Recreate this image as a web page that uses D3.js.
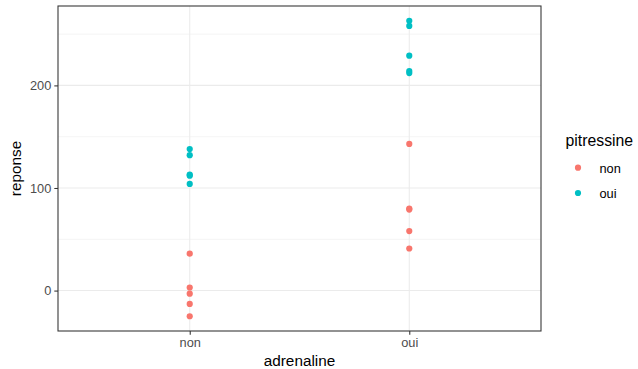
<!DOCTYPE html>
<html><head><meta charset="utf-8">
<script src="https://cdn.jsdelivr.net/npm/d3@7"></script>
<style>body{margin:0;background:#fff}svg{display:block}text{font-family:"Liberation Sans",Arial,sans-serif}</style>
</head><body>
<svg id="c" width="638" height="369"></svg>
<script>
const categories = ["non", "oui"];
const groups = ["non", "oui"];
const nonNon = [36, 3, -3, -13, -25];
const nonOui = [138, 132, 113, 112, 104];
const ouiNon = [143, 80, 79, 58, 41];
const ouiOui = [263, 258, 229, 214, 212];
const yTicks = [0, 100, 200];
const yMinor = [-50, 50, 150, 250];

const points = [];
nonNon.forEach(v => points.push({a: "non", p: "non", v}));
nonOui.forEach(v => points.push({a: "non", p: "oui", v}));
ouiNon.forEach(v => points.push({a: "oui", p: "non", v}));
ouiOui.forEach(v => points.push({a: "oui", p: "oui", v}));

const svg = d3.select("#c");
const L = 58, R = 541, T = 6, B = 331;
const vals = points.map(d => d.v);
const mn = d3.min(vals), mx = d3.max(vals), r = mx - mn;
const y = d3.scaleLinear().domain([mn - 0.05 * r, mx + 0.05 * r]).range([B, T]);
const xi = d3.scaleLinear().domain([0.4, 2.6]).range([L, R]);
const x = c => xi(categories.indexOf(c) + 1);
const color = d3.scaleOrdinal().domain(groups).range(["#F8766D", "#00BFC4"]);

const g = svg.append("g");
g.selectAll(".mn").data(yMinor.filter(v => y(v) > T && y(v) < B)).join("line")
  .attr("x1", L).attr("x2", R).attr("y1", d => y(d)).attr("y2", d => y(d))
  .attr("stroke", "#EBEBEB").attr("stroke-width", 0.55);
g.selectAll(".mj").data(yTicks).join("line")
  .attr("x1", L).attr("x2", R).attr("y1", d => y(d)).attr("y2", d => y(d))
  .attr("stroke", "#EBEBEB").attr("stroke-width", 1.07);
g.selectAll(".mx").data(categories).join("line")
  .attr("y1", T).attr("y2", B).attr("x1", d => x(d)).attr("x2", d => x(d))
  .attr("stroke", "#EBEBEB").attr("stroke-width", 1.07);

g.selectAll("circle").data(points).join("circle")
  .attr("cx", d => x(d.a)).attr("cy", d => y(d.v)).attr("r", 3.1)
  .attr("fill", d => color(d.p));

svg.append("rect").attr("x", L).attr("y", T).attr("width", R - L).attr("height", B - T)
  .attr("fill", "none").attr("stroke", "#333333").attr("stroke-width", 1.07);

const ya = svg.append("g").attr("transform", `translate(${L},0)`)
  .call(d3.axisLeft(y).tickValues(yTicks).tickSize(3.7).tickPadding(3));
ya.select(".domain").remove();
ya.selectAll("line").attr("stroke", "#333333").attr("stroke-width", 1.07);
ya.selectAll("text").attr("fill", "#4D4D4D").style("font-size", "12.8px").style("font-family", "Liberation Sans, Arial, sans-serif");

const xb = d3.scalePoint().domain(categories).range([x("non"), x("oui")]);
const xa = svg.append("g").attr("transform", `translate(0,${B})`)
  .call(d3.axisBottom(xb).tickSize(3.7).tickPadding(3));
xa.select(".domain").remove();
xa.selectAll("line").attr("stroke", "#333333").attr("stroke-width", 1.07);
xa.selectAll("text").attr("fill", "#4D4D4D").style("font-size", "12.8px").style("font-family", "Liberation Sans, Arial, sans-serif");

svg.append("text").attr("x", (L + R) / 2).attr("y", 366).attr("text-anchor", "middle")
  .style("font-size", "15.3px").attr("fill", "#000").text("adrenaline");
svg.append("text").attr("transform", `translate(21,${(T + B) / 2}) rotate(-90)`).attr("text-anchor", "middle")
  .style("font-size", "15.3px").attr("fill", "#000").text("reponse");

const lg = svg.append("g");
lg.append("text").attr("x", 565.5).attr("y", 146).style("font-size", "15.8px").text("pitressine");
groups.forEach((p, i) => {
  const cy = 167.7 + i * 25.3;
  lg.append("circle").attr("cx", 578).attr("cy", cy).attr("r", 3.1).attr("fill", color(p));
  lg.append("text").attr("x", 599.5).attr("y", cy + 5).style("font-size", "12.8px").attr("fill", "#000").text(p);
});
</script>
</body></html>
